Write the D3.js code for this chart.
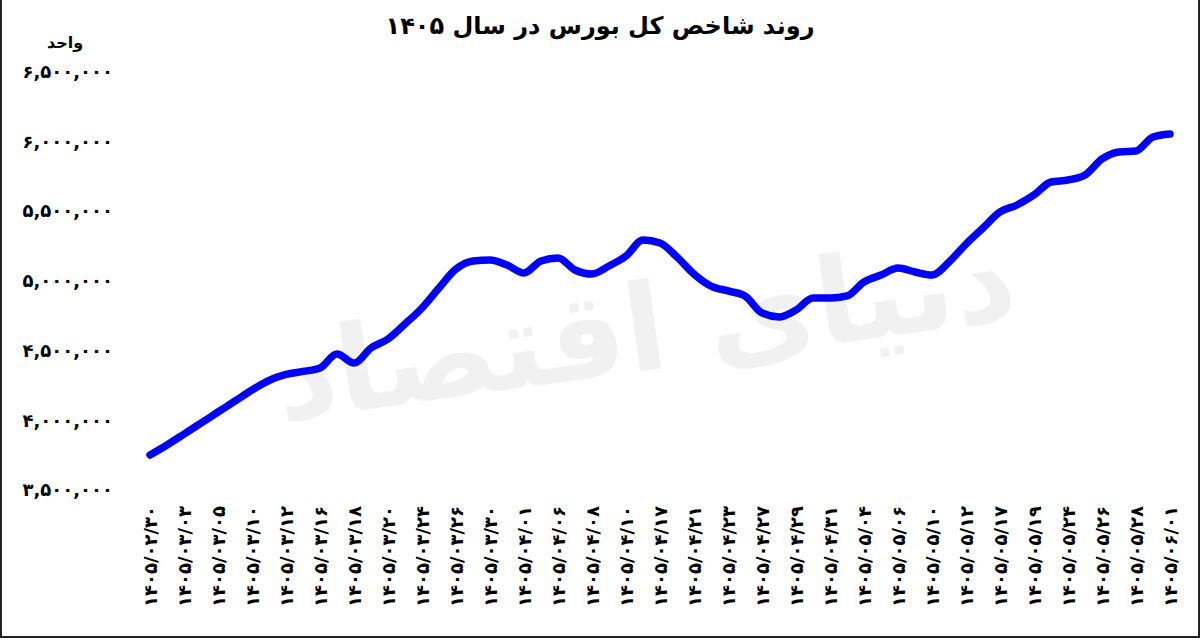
<!DOCTYPE html>
<html>
<head>
<meta charset="utf-8">
<script src="https://cdn.jsdelivr.net/npm/d3@7"></script>
<style>
  body { margin: 0; background: #fff; }
  svg { display: block; }
  .axis text { font-family: "DejaVu Sans", sans-serif; font-weight: bold; fill: #000; }
</style>
</head>
<body>
<script>
// titel + data
const title = "روند شاخص کل بورس در سال ۱۴۰۵"
const unitLabel = "واحد"
const watermark = "دنیای اقتصاد"

// labels onder de x-as (elke tweede meting)
const dates = [
  "1405/02/30", "1405/03/03", "1405/03/05", "1405/03/10", "1405/03/12", "1405/03/16",
  "1405/03/18", "1405/03/20", "1405/03/24", "1405/03/26", "1405/03/30", "1405/04/01",
  "1405/04/06", "1405/04/08", "1405/04/10", "1405/04/17", "1405/04/21", "1405/04/23",
  "1405/04/27", "1405/04/29", "1405/04/31", "1405/05/04", "1405/05/06", "1405/05/10",
  "1405/05/12", "1405/05/17", "1405/05/19", "1405/05/24", "1405/05/26", "1405/05/28",
  "1405/06/01"
]

// index waarden
const values = [
  3751000, 3823000, 3901000, 3980000, 4059000, 4138000, 4217000, 4285000, 4328000, 4350000,
  4375000, 4475000, 4410000, 4518000, 4582000, 4690000, 4805000, 4948000, 5084000, 5142000,
  5149000, 5113000, 5056000, 5142000, 5163000, 5077000, 5048000, 5106000, 5177000, 5292000,
  5271000, 5170000, 5048000, 4962000, 4927000, 4891000, 4769000, 4740000, 4790000, 4876000,
  4876000, 4891000, 4991000, 5041000, 5091000, 5063000, 5041000, 5134000, 5263000, 5378000,
  5493000, 5543000, 5615000, 5708000, 5722000, 5758000, 5873000, 5923000, 5930000, 6031000,
  6052000
]

const yTicks = [3500000, 4000000, 4500000, 5000000, 5500000, 6000000, 6500000]

const width = 1200
const height = 640

// latijnse cijfers naar perzische cijfers
const faDigits = "۰۱۲۳۴۵۶۷۸۹"
function toFa(s){
  return String(s).replace(/[0-9]/g, function(c){ return faDigits[+c] })
}

const svg = d3.select("body").append("svg")
  .attr("width", width)
  .attr("height", height)

svg.append("rect")
  .attr("x", 1).attr("y", -2)
  .attr("width", width - 2).attr("height", height - 1)
  .attr("fill", "#fff")
  .attr("stroke", "#222")
  .attr("stroke-width", 2)

// watermerk op de achtergrond
svg.append("text")
  .attr("x", 645)
  .attr("y", 370)
  .attr("text-anchor", "middle")
  .attr("direction", "rtl")
  .attr("font-family", "DejaVu Sans, sans-serif")
  .attr("font-weight", "bold")
  .attr("font-size", 120)
  .attr("fill", "#f1f1f1")
  .attr("transform", "rotate(-8,645,330)")
  .text(watermark)

let x = d3.scaleLinear()
  .domain([0, values.length - 1])
  .range([150, 1170])

let y = d3.scaleLinear()
  .domain([3500000, 6500000])
  .range([490, 71.5])

let yAxis = d3.axisLeft(y)
  .tickValues(yTicks)
  .tickSize(0)
  .tickPadding(0)
  .tickFormat(function(d){ return toFa(d3.format(",")(d)) })

let xAxis = d3.axisBottom(x)
  .tickValues(dates.map(function(d, i){ return i * 2 }))
  .tickSize(0)
  .tickFormat(function(d){ return toFa(dates[d / 2]) })

svg.append("g")
  .attr("class", "axis y")
  .attr("transform", "translate(113,0)")
  .call(yAxis)
  .call(function(g){ g.select(".domain").remove() })
  .selectAll("text")
  .attr("font-size", 18)

svg.append("g")
  .attr("class", "axis x")
  .attr("transform", "translate(0,506)")
  .call(xAxis)
  .call(function(g){ g.select(".domain").remove() })
  .selectAll("text")
  .attr("font-size", 18)
  .attr("text-anchor", "end")
  .attr("x", 0)
  .attr("y", 0)
  .attr("dy", "0.35em")
  .attr("transform", "rotate(-90)")

let line = d3.line()
  .x(function(d, i){ return x(i) })
  .y(function(d){ return y(d) })
  .curve(d3.curveMonotoneX)

svg.append("path")
  .attr("d", line(values))
  .attr("fill", "none")
  .attr("stroke", "#0000ff")
  .attr("stroke-width", 7.5)
  .attr("stroke-linecap", "round")
  .attr("stroke-linejoin", "round")

svg.append("text")
  .attr("x", 600)
  .attr("y", 34)
  .attr("text-anchor", "middle")
  .attr("direction", "rtl")
  .attr("font-family", "DejaVu Sans, sans-serif")
  .attr("font-weight", "bold")
  .attr("font-size", 24)
  .text(title)

svg.append("text")
  .attr("x", 65)
  .attr("y", 48)
  .attr("text-anchor", "middle")
  .attr("direction", "rtl")
  .attr("font-family", "DejaVu Sans, sans-serif")
  .attr("font-weight", "bold")
  .attr("font-size", 16)
  .text(unitLabel)
</script>
</body>
</html>
